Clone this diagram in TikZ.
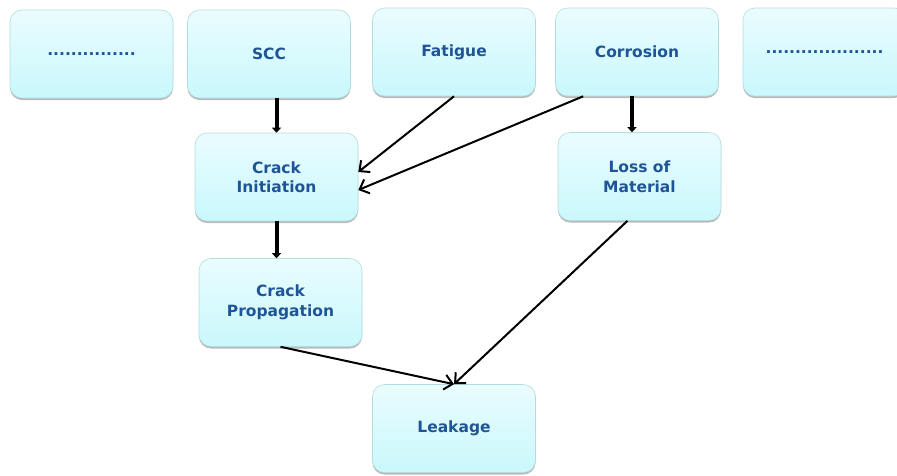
\documentclass[tikz,border=0pt]{standalone}
\usepackage{fontspec}
\setmainfont{DejaVu Sans}
\usetikzlibrary{arrows.meta,shadows}
\definecolor{txtblue}{HTML}{1F5597}
\definecolor{boxtop}{HTML}{EAFCFE}
\definecolor{boxbot}{HTML}{C9F8FC}
\definecolor{boxline}{HTML}{B2DCE0}
\tikzset{
  box/.style={rounded corners=12pt, minimum width=163pt, minimum height=88pt, inner sep=0pt,
    top color=boxtop, bottom color=boxbot, draw=boxline, line width=0.6pt,
    drop shadow={shadow xshift=0pt, shadow yshift=-2pt, opacity=0.45, fill=black!60},
    align=center, text=txtblue, font=\bfseries\fontsize{15.5}{19.5}\selectfont},
  thickarr/.style={line width=4pt, -{Triangle[length=5pt,width=9pt]}},
  thinarr/.style={line width=2pt, -{Straight Barb[length=8pt,width=15pt,line width=2pt]}}
}
\begin{document}
\begin{tikzpicture}[x=1pt,y=-1pt]
\useasboundingbox (0,0) rectangle (897,475);
\begin{scope}
\clip (0,0) rectangle (897,475);
\node[box] (d1) at (91.5,54) {...............};
\node[box] (scc) at (269,54) {SCC};
\node[box] (fat) at (454,52) {Fatigue};
\node[box] (cor) at (637,52) {Corrosion};
\node[box] (d2) at (824.5,52) {....................};
\node[box] (ci) at (276.5,177) {Crack\\Initiation};
\node[box] (loss) at (639.5,176.5) {Loss of\\Material};
\node[box] (cp) at (280.5,302.5) {Crack\\Propagation};
\node[box] (leak) at (454,428.5) {Leakage};
\end{scope}
\draw[thickarr] (scc.south -| ci.north) -- (ci.north);
\draw[thickarr] ([xshift=-5pt]cor.south) -- ([xshift=-7.5pt]loss.north);
\draw[thickarr] (ci.south) -- (ci.south |- cp.north);
\draw[thinarr] (fat.south) -- ([yshift=5pt]ci.east);
\draw[thinarr] ([xshift=28pt]cor.south west) -- ([yshift=-13pt]ci.east);
\draw[thinarr] (cp.south) -- (leak.north);
\draw[thinarr] ([xshift=-12pt]loss.south) -- (leak.north);
\end{tikzpicture}
\end{document}
